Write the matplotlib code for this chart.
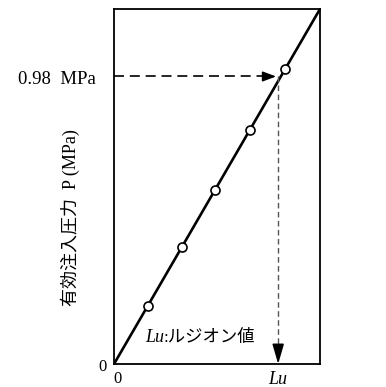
import matplotlib.pyplot as plt

plt.rcParams['font.family'] = ['Liberation Serif', 'Noto Sans CJK JP']

# flow (arbitrary units) vs effective injection pressure (MPa)
q_line = [0.0, 1.0]
p_line = [0.0, 1.21]
q_pts = [0.164, 0.33, 0.49, 0.658, 0.83]
p_pts = [0.198, 0.399, 0.593, 0.796, 1.004]
p_ref = 0.98
lu = 0.797

fig = plt.figure(figsize=(3.86, 3.87), dpi=100)
ax = fig.add_axes([114/386, 23/387, 206/386, 355/387])
ax.set_xlim(0, 1)
ax.set_ylim(0, 1.21)
ax.set_xticks([])
ax.set_yticks([])
for s in ax.spines.values():
    s.set_linewidth(1.3)

ax.plot(q_line, p_line, color='black', lw=1.9, solid_capstyle='butt', clip_on=False)
ax.plot(q_pts, p_pts, 'o', ms=6.5, mfc='white', mec='black', mew=1.2, zorder=5)

# dashed guides with arrow heads
ax.plot([0, lu - 0.055], [p_ref, p_ref], color='black', lw=1.2, ls=(0, (6, 3.5)))
ax.annotate('', xy=(lu - 0.01, p_ref), xytext=(lu - 0.06, p_ref),
            arrowprops=dict(arrowstyle='-|>,head_length=0.8,head_width=0.3',
                            color='black', lw=1.2, shrinkA=0, shrinkB=0))
ax.plot([lu, lu], [p_ref, 0.06], color='#555555', lw=1.0, ls=(0, (4, 2.5)))
ax.annotate('', xy=(lu, 0.0), xytext=(lu, 0.065),
            arrowprops=dict(arrowstyle='-|>,head_length=1.2,head_width=0.35',
                            color='black', lw=1.2, shrinkA=0, shrinkB=0))

# tick-like labels
ytr = ax.get_yaxis_transform()
xtr = ax.get_xaxis_transform()
ax.text(-0.035, -0.01, '0', transform=ytr, ha='right', va='center', fontsize=12)
ax.text(-0.09, p_ref - 0.01, '0.98  MPa', transform=ytr, ha='right', va='center', fontsize=13.5)
ax.text(0.015, -0.02, '0', transform=xtr, ha='center', va='top', fontsize=12)
ax.text(lu, -0.02, 'Lu', transform=xtr, ha='center', va='top', fontsize=13, style='italic')

fig.text(145/386, 1 - 338/387, 'Lu', ha='left', va='center', fontsize=13, style='italic')
fig.text(164/386, 1 - 338/387, ':ルジオン値', ha='left', va='center', fontsize=12.5)

fig.text(70/386, 1 - 218/387, '有効注入圧力  P (MPa)', rotation=90,
         ha='center', va='center', fontsize=13)

fig.savefig('out.png', dpi=100)
